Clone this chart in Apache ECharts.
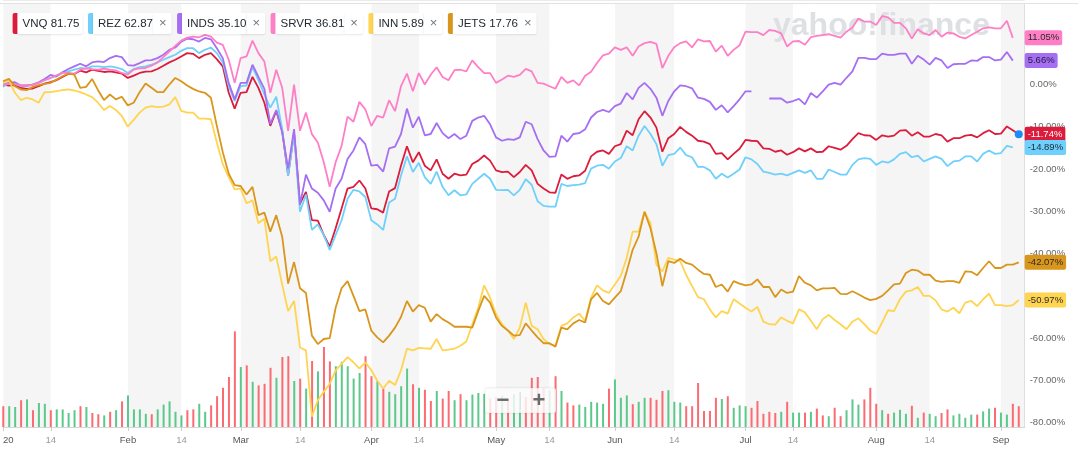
<!DOCTYPE html>
<html><head><meta charset="utf-8">
<script src="https://cdn.jsdelivr.net/npm/echarts@6/dist/echarts.min.js"></script>
<style>html,body{margin:0;padding:0;background:#fff}#c{width:1078px;height:451px}</style>
</head><body><div id="c"></div>
<script>
// ---------- DATA ----------
const holidays = ['2020-01-20','2020-02-17','2020-04-10','2020-05-25','2020-07-03','2020-09-07'];
function tradingDays(s, e) {
  const out = []; let d = new Date(s + 'T00:00:00Z'); const end = new Date(e + 'T00:00:00Z');
  while (d <= end) { const w = d.getUTCDay(); const iso = d.toISOString().slice(0, 10);
    if (w !== 0 && w !== 6 && !holidays.includes(iso)) out.push(iso);
    d = new Date(d.getTime() + 86400000); }
  return out;
}
const categories = tradingDays('2020-01-02', '2020-09-08');
const tickLabels = [['2020-01-02','20'],['2020-01-14','14'],['2020-02-03','Feb'],['2020-02-14','14'],
  ['2020-03-02','Mar'],['2020-03-16','14'],['2020-04-01','Apr'],['2020-04-14','14'],['2020-05-01','May'],
  ['2020-05-14','14'],['2020-06-01','Jun'],['2020-06-15','14'],['2020-07-01','Jul'],['2020-07-14','14'],
  ['2020-08-03','Aug'],['2020-08-14','14'],['2020-09-01','Sep']];
const tickers = ['VNQ','REZ','INDS','SRVR','INN','JETS'];
const prices = ['81.75','62.87','35.10','36.81','5.89','17.76'];

const vnq = [0,-0.23,-0.16,-0.78,-1.02,-0.94,-0.39,0.23,0.55,1.02,
 1.80,2.50,2.50,3.28,2.89,3.52,3.21,2.97,3.13,2.89,
 2.58,1.56,2.11,2.74,3.05,3.13,3.67,4.46,5.24,5.86,
 6.65,7.43,7.27,6.25,7.04,7.43,6.02,4.30,-1.95,-5.71,
 -1.95,-1.80,1.80,-0.78,-4.30,-9.77,-6.25,-10.95,-21.5,-11.34,
 -28.15,-25.4,-32.06,-32.2,-35.6,-38.3,-34.0,-29.3,-24.6,-24.2,
 -22.7,-24.6,-29.3,-29.5,-30.3,-25.3,-24.5,-19.2,-14.6,-18.4,
 -16.0,-19.2,-20.3,-17.7,-21.1,-22.3,-21.1,-21.5,-21.3,-18.8,
 -18.0,-16.8,-18.0,-20.3,-20.7,-20.6,-21.9,-20.7,-19.0,-20.3,
 -23.5,-24.6,-25.5,-25.6,-21.3,-22.3,-21.7,-21.5,-20.4,-17.0,
 -15.9,-15.6,-16.4,-14.6,-14.1,-10.9,-12.0,-8.2,-6.3,-7.8,
 -10.2,-15.9,-12.7,-11.7,-10.0,-11.2,-12.1,-13.3,-13.5,-14.1,
 -16.4,-16.2,-17.7,-16.4,-15.2,-13.1,-13.3,-13.4,-15.1,-15.2,
 -15.9,-15.6,-16.6,-16.0,-15.1,-15.8,-15.1,-16.0,-15.9,-14.6,
 -15.0,-15.4,-14.5,-12.9,-11.5,-12.0,-12.1,-13.1,-12.0,-12.3,
 -12.1,-10.9,-10.8,-12.1,-11.3,-12.3,-12.3,-11.7,-12.0,-13.5,
 -12.7,-12.7,-12.1,-11.9,-12.5,-11.5,-10.8,-11.7,-11.6,-9.9,
 -10.8,-11.74,null];
const rez = [-0.55,0.39,0.23,-0.39,-0.39,0,0.39,1.02,1.56,1.95,
 2.74,3.13,3.52,3.91,3.75,4.30,4.30,4.14,4.30,4.07,
 3.67,2.74,3.67,4.14,4.30,4.69,5.24,5.86,6.49,7.04,
 7.97,8.60,8.60,7.43,8.21,8.76,7.43,5.24,-0.39,-3.91,
 -0.39,-0.23,4.14,1.02,-2.35,-5.47,-2.89,-10.55,-21.5,-11.7,
 -30.1,-26.0,-34.4,-33.1,-35.6,-39.1,-35.6,-32.1,-27.0,-24.9,
 -25.3,-26.6,-32.1,-33.1,-34.4,-27.9,-27.0,-21.5,-17.0,-20.7,
 -18.5,-21.9,-23.5,-20.6,-24.2,-26.2,-25.0,-26.2,-26.0,-23.5,
 -22.3,-21.1,-22.3,-24.9,-25.0,-24.9,-26.2,-24.9,-22.4,-23.7,
 -27.6,-28.7,-28.9,-28.9,-23.5,-24.0,-23.8,-23.7,-23.3,-19.9,
 -19.2,-19.0,-19.9,-18.2,-17.4,-14.6,-15.6,-12.1,-9.8,-11.7,
 -14.1,-19.2,-16.7,-16.4,-14.9,-16.7,-17.2,-19.5,-19.5,-20.3,
 -22.3,-21.1,-22.0,-21.1,-20.1,-17.2,-17.7,-18.8,-20.6,-20.9,
 -21.3,-21.1,-21.5,-20.9,-20.3,-20.9,-20.3,-22.3,-22.3,-20.1,
 -20.7,-21.3,-21.3,-19.0,-17.7,-17.4,-17.6,-19.0,-18.2,-18.5,
 -17.7,-16.4,-16.0,-17.2,-16.8,-18.2,-17.6,-17.0,-17.6,-19.3,
 -18.2,-18.0,-17.0,-17.0,-18.2,-16.4,-15.6,-16.4,-16.2,-14.5,
 -14.89,null,null];
const inds = [0,0.39,0.55,-0.23,-0.23,0,0.55,1.33,2.27,1.95,
 2.89,3.67,4.30,4.93,4.30,5.24,5.47,5.32,6.25,6.80,
 6.49,4.61,4.46,5.08,5.71,5.79,6.25,7.04,8.21,8.76,
 10.16,10.87,10.71,10.16,11.02,10.71,8.60,6.25,0.39,-3.52,
 0.39,0.39,4.69,1.80,-1.02,-9.38,-6.02,-11.34,-19.9,-10.55,
 -28.5,-21.3,-24.6,-25.6,-27.4,-30.1,-24.6,-22.3,-17.6,-15.6,
 -12.5,-14.1,-19.2,-19.0,-20.6,-15.1,-14.7,-11.7,-5.7,-10.2,
 -7.6,-12.0,-11.7,-9.1,-11.5,-12.7,-11.7,-12.9,-12.1,-8.6,
 -7.8,-7.4,-9.4,-12.5,-13.3,-12.9,-13.1,-12.5,-8.8,-9.4,
 -12.9,-15.6,-17.1,-17.0,-12.1,-13.5,-11.7,-11.5,-10.6,-7.8,
 -6.5,-6.0,-6.5,-5.1,-4.5,-2.0,-3.5,-0.8,0.4,-1.0,
 -3.1,-7.4,-3.9,-1.6,-0.2,-0.4,-0.9,-3.1,-3.4,-4.1,
 -6.0,-4.9,-6.6,-5.1,-3.5,-1.6,-1.6,null,null,-3.3,
 -3.3,-3.3,-4.3,-3.9,-3.4,-4.7,-2.0,-3.1,-1.6,0,
 0.4,0,1.6,3.1,6.3,6.3,6.0,6.0,7.3,7.0,
 7.0,7.3,7.3,4.9,6.8,5.9,4.7,6.3,5.7,3.9,
 4.8,4.9,4.9,5.7,5.6,6.5,6.5,5.7,5.9,7.7,
 5.66,null,null];
const srvr = [0,0.16,0.16,-0.23,-0.23,-0.08,0.39,1.02,1.56,2.19,
 2.74,2.74,2.58,3.52,3.83,3.67,3.52,3.75,3.52,3.36,
 2.74,2.35,3.52,3.83,3.91,4.46,5.24,6.49,7.82,9.15,
 10.40,11.10,11.34,11.18,11.73,11.34,9.93,9.38,5.86,0.39,
 6.25,6.65,10.40,7.43,5.47,-1.95,3.52,-0.78,-10.95,0,
 -10.95,-6.65,-11.73,-13.7,-18.4,-24.2,-18.4,-14.5,-7.6,-8.8,
 -4.1,-5.9,-9.8,-7.4,-7.8,-3.7,-6.3,-0.4,2.6,-1.6,
 2.7,0,2.3,4.1,1.8,1.0,3.4,3.5,3.1,5.7,
 4.1,2.7,2.7,0.4,1.2,2.1,1.8,2.3,3.7,3.1,
 0.4,0.2,-0.4,-1.0,1.8,0.4,1.0,-0.2,2.1,3.0,
 5.1,6.9,7.3,8.8,8.2,8.8,6.8,9.0,9.8,10.1,
 9.6,3.9,6.8,8.8,9.8,10.2,8.8,10.7,10.2,10.3,
 7.8,9.2,6.8,8.2,9.3,12.5,12.4,12.4,11.7,12.9,
 12.7,12.1,9.0,10.2,10.3,9.4,11.2,11.5,11.7,11.9,
 11.5,11.1,12.5,13.5,15.6,14.9,14.9,14.1,16.2,15.9,
 14.6,14.6,13.3,10.9,13.1,12.1,11.7,12.9,11.3,12.3,
 12.1,11.3,10.9,11.7,12.5,13.3,13.5,13.3,13.3,15.1,
 11.05,null,null];
const inn = [0.39,1.02,-1.95,-3.67,-3.13,-3.52,-4.30,-1.80,-1.80,-1.56,
 -1.33,-1.17,-1.41,-1.80,-2.35,-2.97,-4.30,-6.02,-5.08,-6.02,
 -7.43,-9.93,-8.37,-6.65,-5.47,-5.08,-5.32,-5.24,-4.69,-2.97,
 -6.25,-6.65,-6.65,-8.05,-8.05,-8.21,-13.7,-18.8,-21.9,-24.8,
 -24.6,-28.1,-27.4,-32.8,-31.7,-41.8,-40.7,-47.3,-53.6,-51.2,
 -62.2,-62.9,-78.6,-74.7,-72.7,-70.8,-67.6,-66.1,-64.5,-65.7,
 -67.2,-65.7,-67.6,-70.0,-71.9,-70.1,-71.1,-67.6,-62.5,-62.9,
 -62.3,-62.4,-62.5,-60.2,-62.9,-62.7,-62.5,-61.8,-60.8,-56.7,
 -52.8,-47.5,-50.4,-54.3,-56.7,-58.2,-60.2,-57.5,-51.6,-57.1,
 -57.9,-60.2,-61.4,-61.8,-57.1,-56.5,-55.1,-54.2,-55.9,-50.4,
 -47.5,-48.7,-49.3,-47.3,-45.3,-41.0,-34.8,-34.8,-30.1,-32.8,
 -42.6,-44.2,-41.0,-41.4,-41.8,-45.0,-47.7,-50.3,-50.8,-53.2,
 -55.1,-53.6,-54.2,-50.8,-51.8,-52.8,-53.7,-52.6,-56.1,-56.7,
 -56.8,-55.1,-55.9,-56.5,-53.2,-53.9,-55.9,-57.9,-55.5,-54.5,
 -55.7,-56.7,-57.9,-56.1,-55.3,-56.7,-58.2,-59.0,-56.3,-53.4,
 -53.6,-50.8,-49.0,-48.7,-47.9,-50.0,-50.0,-51.1,-53.2,-53.7,
 -52.8,-54.1,-51.6,-51.2,-52.4,-50.8,-49.5,-52.2,-52.2,-52.4,
 -52.2,-50.97,null];
const jets = [0.78,1.33,-0.39,-1.17,-1.33,-0.55,-0.16,0.16,0.39,1.17,
 1.95,2.58,2.35,-0.78,-0.55,1.33,-1.33,-3.67,-2.35,-3.52,
 -2.89,-4.93,-4.30,-1.80,0.23,-0.78,-1.80,-1.80,0,1.56,
 0.78,-0.23,-1.02,-1.64,-1.95,-3.13,-9.77,-16.0,-21.1,-23.8,
 -24.0,-26.0,-24.2,-30.9,-30.3,-34.8,-30.9,-36.0,-47.1,-42.0,
 -48.2,-49.3,-59.4,-61.4,-60.2,-60.0,-52.8,-48.2,-46.5,-50.0,
 -53.6,-53.2,-58.2,-59.8,-61.0,-59.4,-57.5,-55.0,-51.2,-53.7,
 -52.2,-52.8,-56.1,-54.3,-55.5,-56.3,-57.3,-57.3,-57.3,-57.5,
 -53.6,-50.0,-51.6,-55.1,-57.1,-58.2,-59.4,-59.3,-56.5,-58.2,
 -59.8,-61.2,-61.2,-62.0,-57.5,-57.9,-56.5,-55.7,-56.3,-50.8,
 -49.3,-51.2,-52.0,-50.4,-48.9,-44.2,-39.1,-36.0,-30.1,-34.0,
 -39.9,-47.7,-41.8,-42.2,-41.2,-42.2,-42.6,-43.8,-44.8,-45.0,
 -47.9,-47.3,-49.0,-46.5,-47.1,-47.5,-47.3,-46.1,-47.9,-47.9,
 -50.3,-48.5,-49.3,-49.0,-45.3,-46.9,-47.5,-48.7,-48.2,-48.2,
 -48.1,-49.5,-49.6,-48.9,-49.6,-50.4,-51.0,-50.7,-50.0,-48.7,
 -47.3,-47.1,-44.6,-43.8,-44.0,-45.0,-45.0,-46.4,-46.7,-46.5,
 -46.5,-46.9,-44.2,-44.3,-45.1,-43.4,-41.8,-43.4,-43.4,-42.6,
 -42.6,-42.07,null];
// volume (millions) and direction (1 = up/green, 0 = down/red)
const volume = [5.2,5.2,5.0,6.7,6.9,4.2,6.0,5.8,4.2,4.4,
 4.4,3.5,4.2,5.2,5.0,3.5,3.2,2.9,3.8,4.2,
 6.4,7.9,4.4,4.4,3.3,3.2,4.4,5.6,6.4,3.8,
 2.9,4.2,4.4,5.8,3.8,5.4,7.7,9.8,12.5,23.9,
 15.0,15.4,11.3,10.4,10.8,14.8,12.3,17.5,17.7,11.5,
 12.1,9.6,16.5,13.9,20.0,16.4,15.2,16.3,15.2,12.1,
 13.5,17.7,12.7,11.5,9.6,8.8,8.2,10.2,14.6,10.7,
 9.8,9.3,6.5,9.0,7.1,9.0,6.7,8.2,6.7,8.1,
 8.5,8.3,7.1,7.5,7.9,7.1,8.2,8.8,7.5,12.3,
 12.5,9.6,9.2,12.7,9.0,6.1,5.4,5.6,5.0,6.3,
 6.1,5.8,9.6,11.9,7.3,7.9,5.7,6.3,7.3,7.3,
 6.8,9.0,9.2,6.3,6.1,5.2,5.2,11.0,4.0,4.0,
 7.3,7.0,7.7,4.8,5.4,5.2,4.8,6.5,3.3,3.8,
 3.5,3.8,6.3,3.6,3.6,3.6,3.8,4.6,2.9,2.7,
 4.8,2.7,4.2,6.9,5.6,6.9,9.8,5.8,4.2,3.3,
 3.6,4.3,3.3,5.3,2.3,3.6,3.3,2.7,3.5,4.4,
 2.9,3.3,2.3,3.1,3.1,3.9,4.6,4.8,3.6,3.1,
 5.8,5.2,null];
const volumeUp = [0,1,1,0,1,0,1,1,0,1, 1,1,1,0,1,0,0,1,0,1, 0,1,1,1,1,0,1,1,1,1,
 1,0,0,1,1,0,0,0,0,0, 1,0,1,0,0,0,1,0,0,1, 0,1,0,1,0,0,1,1,1,1,
 1,0,0,1,0,1,1,1,1,0, 1,0,0,1,0,0,1,0,1,1, 1,1,0,0,1,0,1,1,0,0,
 0,0,1,0,1,0,0,1,1,1, 1,1,0,1,1,1,0,1,1,0, 0,0,1,1,1,0,0,0,0,0,
 0,1,0,1,1,1,0,0,0,0, 0,1,0,1,1,0,1,0,0,1, 0,0,1,1,1,0,0,0,1,0,
 1,1,1,0,1,0,1,1,0,0, 1,1,1,1,0,1,1,0,1,1, 0,0,0];

// ---------- STYLE ----------
const FONT = '"Liberation Sans", Arial, Helvetica, sans-serif';
const colors = ['#dc1c3c','#6fd0fb','#a66ef2','#ff7fc6','#ffd451','#d9961d'];
const badgeTextByTicker = {VNQ:'#fff', REZ:'#1b2b3a', INDS:'#1d1d3a', SRVR:'#2a2a2a', INN:'#2a2a2a', JETS:'#2a2a2a'};
const UP = '#5cc88b', DOWN = '#fb6b72';

const seriesData = [vnq, rez, inds, srvr, inn, jets];
const labelMap = Object.fromEntries(tickLabels);
const tickIdx = new Set(tickLabels.map(t => categories.indexOf(t[0])));
const areaIdx = new Set([...tickIdx, categories.length - 1]);
function lastIndex(a) { for (let i = a.length - 1; i >= 0; i--) if (a[i] != null) return i; return -1; }

const shadow = {shadowBlur: 2, shadowColor: 'rgba(0,0,0,0.10)', shadowOffsetY: 1};
const legendRich = {
  t0: Object.assign({height: 21, lineHeight: 21, padding: [0, 3, 0, 5], backgroundColor: '#fff', color: '#232a31', fontSize: 11.5, fontFamily: FONT, borderRadius: [0, 2, 2, 0]}, shadow),
  t: Object.assign({height: 21, lineHeight: 21, padding: [0, 0, 0, 5], backgroundColor: '#fff', color: '#232a31', fontSize: 11.5, fontFamily: FONT}, shadow),
  x: Object.assign({height: 21, lineHeight: 21, padding: [0, 5, 0, 6], backgroundColor: '#fff', color: '#6e7780', fontSize: 13, fontFamily: FONT, borderRadius: [0, 2, 2, 0]}, shadow)
};
colors.forEach((c, k) => { legendRich['s' + k] = {width: 5, height: 21, lineHeight: 21, backgroundColor: c, borderRadius: [2, 0, 0, 2]}; });

const lineSeries = tickers.map((t, k) => {
  const d = seriesData[k]; const li = lastIndex(d); const lv = d[li];
  const s = {
    name: t, type: 'line', xAxisIndex: 0, yAxisIndex: 0, data: d,
    showSymbol: false, symbol: 'none', connectNulls: false, z: 3,
    lineStyle: {width: 1.8, color: colors[k]}, itemStyle: {color: colors[k]},
    markLine: {
      silent: true, symbol: ['none', 'none'],
      lineStyle: {width: 0, color: 'transparent'},
      label: {show: true, position: 'end', distance: 0, opacity: 1,
        formatter: lv.toFixed(2) + '%', backgroundColor: colors[k], color: badgeTextByTicker[t],
        padding: [3, 3, 2, 3], borderRadius: 2, fontSize: 9.5, fontFamily: FONT},
      data: [{yAxis: lv}]
    }
  };
  if (t === 'VNQ') {
    s.markPoint = {silent: true, symbol: 'circle', symbolSize: 8, itemStyle: {color: '#1d8cf8'},
      label: {show: false}, data: [{coord: [categories[li], lv]}]};
  }
  return s;
});

const option = {
  animation: false,
  textStyle: {fontFamily: FONT},
  legend: {
    data: tickers, left: 7.6, top: 13, padding: 0, itemGap: 0.5, itemWidth: 0, itemHeight: 21,
    icon: 'rect', itemStyle: {opacity: 0}, selectedMode: false,
    formatter: name => { const k = tickers.indexOf(name);
      return k === 0 ? `{s${k}| }{t0|${name} ${prices[k]}}` : `{s${k}| }{t|${name} ${prices[k]}}{x|×}`; },
    textStyle: {rich: legendRich}
  },
  grid: [
    {left: 3, right: 53.3, top: -3.55, bottom: 28.3},
    {left: 3, right: 53.3, top: 4, bottom: 24}
  ],
  xAxis: [
    {type: 'category', gridIndex: 0, data: categories, boundaryGap: false, show: false},
    {type: 'category', gridIndex: 1, data: categories, boundaryGap: false,
      axisLine: {lineStyle: {color: '#d6d6d6'}},
      axisTick: {show: true, length: 4, interval: i => tickIdx.has(i), lineStyle: {color: '#cfcfcf'}},
      axisLabel: {interval: i => tickIdx.has(i), margin: 8,
        formatter: v => { const l = labelMap[v]; if (!l) return ''; if (v === categories[0]) return '{y|' + l + '}'; return l === '14' ? '{d|14}' : '{m|' + l + '}'; },
        rich: {m: {color: '#555', fontSize: 9.5, fontFamily: FONT}, d: {color: '#9a9a9a', fontSize: 9.5, fontFamily: FONT},
               y: {color: '#555', fontSize: 9.5, fontFamily: FONT, padding: [0, 0, 0, 10]}}},
      splitLine: {show: false},
      splitArea: {show: true, interval: i => areaIdx.has(i), areaStyle: {color: ['#f5f5f5', '#ffffff']}}}
  ],
  yAxis: [
    {type: 'value', gridIndex: 0, position: 'right', min: -80, max: 20, interval: 10,
      axisLine: {show: false}, axisTick: {show: false},
      axisLabel: {margin: 5, color: '#666', fontSize: 9.5, fontFamily: FONT, formatter: v => v >= 20 ? '' : v.toFixed(2) + '%'},
      splitLine: {lineStyle: {color: '#ebebeb'}}},
    {type: 'value', gridIndex: 1, position: 'right', min: 0, max: 105.75,
      axisLine: {show: true, lineStyle: {color: '#dedede'}}, axisTick: {show: false},
      axisLabel: {show: false}, splitLine: {show: false}}
  ],
  graphic: [
    {type: 'line', z: 1, shape: {x1: 0, y1: 3.5, x2: 1078, y2: 3.5}, style: {stroke: '#e2e2e2', lineWidth: 1}},
    {type: 'text', z: 1, style: {x: 773, y: 26, text: 'yahoo!finance', font: 'bold 32px "Liberation Sans", Arial, sans-serif', fill: '#dfe0e3', textVerticalAlign: 'middle'}},
    {type: 'rect', z: 20, shape: {x: 485, y: 388, width: 71, height: 25, r: 2}, style: {fill: 'rgba(255,255,255,0.82)', stroke: 'rgba(0,0,0,0.05)', shadowBlur: 3, shadowColor: 'rgba(0,0,0,0.08)'}},
    {type: 'line', z: 21, shape: {x1: 520.5, y1: 392, x2: 520.5, y2: 409}, style: {stroke: '#e2e2e2', lineWidth: 1}},
    {type: 'text', z: 21, style: {x: 503, y: 401, text: '−', font: 'bold 22px "Liberation Sans", Arial, sans-serif', fill: '#6b6b6b', textAlign: 'center', textVerticalAlign: 'middle'}},
    {type: 'text', z: 21, style: {x: 539, y: 401, text: '+', font: 'bold 22px "Liberation Sans", Arial, sans-serif', fill: '#6b6b6b', textAlign: 'center', textVerticalAlign: 'middle'}}
  ],
  series: [
    {name: 'Volume', type: 'bar', xAxisIndex: 1, yAxisIndex: 1, barWidth: 2, z: 2,
      data: volume.map((v, i) => ({value: v, itemStyle: {color: volumeUp[i] ? UP : DOWN}}))},
    ...lineSeries
  ]
};
const chart = echarts.init(document.getElementById('c'));
chart.setOption(option);
</script></body></html>
